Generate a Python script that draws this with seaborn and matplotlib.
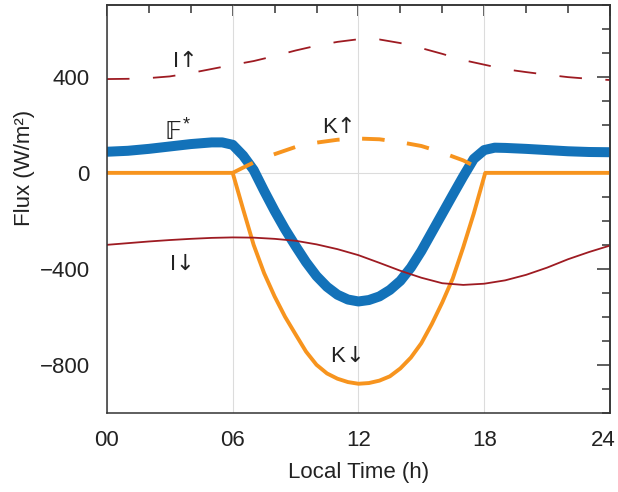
import matplotlib
matplotlib.use('Agg')
import matplotlib.pyplot as plt
from matplotlib.ticker import MultipleLocator, FixedLocator
from matplotlib.transforms import ScaledTranslation
import seaborn as sns

# Values (hours, W/m2)
hours = list(range(25))
i_up = [391, 392, 395, 402, 416, 433, 450, 466, 487, 510, 530, 546, 557,
        556, 541, 520, 496, 470, 451, 432, 420, 409, 399, 392, 387]
i_down = [-300, -293, -286, -280, -275, -271, -269, -270, -275, -283, -298,
          -318, -343, -375, -408, -437, -460, -467, -462, -448, -425, -395,
          -360, -330, -303]

kd_hours = [0, 6, 6.5, 7, 7.5, 8, 8.5, 9, 9.5, 10, 10.5, 11, 11.5, 12, 12.5,
            13, 13.5, 14, 14.5, 15, 15.5, 16, 16.5, 17, 17.5, 18.05, 24]
k_down = [0, 0, -152, -300, -418, -515, -600, -673, -745, -800, -836, -858,
          -872, -879, -876, -866, -848, -815, -770, -710, -630, -540, -440,
          -310, -170, 0, 0]

ku_hours = [6, 6.5, 7, 7.5, 8, 9, 10, 11, 12, 13, 14, 15, 16, 16.5, 17, 17.5, 18.05]
k_up = [0, 22, 43, 62, 78, 108, 126, 138, 143, 140, 128, 112, 85, 68, 52, 30, 0]

f_hours = [0, 1, 2, 3, 4, 5, 5.5, 6, 6.5, 7, 7.5, 8, 8.5, 9, 9.5, 10, 10.5,
           11, 11.5, 12, 12.5, 13, 13.5, 14, 14.5, 15, 15.5, 16, 16.5, 17,
           17.5, 18, 18.5, 19, 20, 21, 22, 23, 24]
f_star = [88, 92, 100, 110, 120, 127, 127, 117, 72, 12, -75, -158, -235, -305,
          -372, -430, -475, -508, -528, -536, -530, -515, -488, -450, -395,
          -326, -248, -170, -92, -15, 58, 95, 105, 104, 100, 95, 90, 87, 86]

x_ticks = [0, 6, 12, 18, 24]
x_labels = ['00', '06', '12', '18', '24']
y_ticks = [-800, -400, 0, 400]
y_labels = ['\u2212800', '\u2212400', '0', '400']

# curve labels: (letter, arrow, x where they meet, baseline y)
labels = [
    ('I', '\u2191', 3.43, 442),
    ('K', '\u2191', 10.97, 168),
    ('I', '\u2193', 3.29, -406),
    ('K', '\u2193', 11.36, -788),
]

blue = '#1372B9'
orange = '#F7941E'
red = '#9E1B22'
ink = '#333333'
text_c = '#222222'

sns.set_theme(style='white')
plt.rcParams['font.family'] = ['Liberation Sans', 'DejaVu Sans']

fig, ax = plt.subplots(figsize=(6.18, 4.92), dpi=100)
fig.subplots_adjust(left=0.173, right=0.987, bottom=0.161, top=0.99)

# light grid at the 6-hourly marks and at zero
ax.set_xticks(x_ticks)
ax.grid(axis='x', which='major', color='#dcdcdc', linewidth=0.8, zorder=0)
ax.axhline(0, color='#dcdcdc', linewidth=0.8, zorder=0.5)

round_kw = dict(solid_joinstyle='round', solid_capstyle='butt')
sns.lineplot(x=f_hours, y=f_star, color=blue, linewidth=7.2, ax=ax, **round_kw)
sns.lineplot(x=kd_hours, y=k_down, color=orange, linewidth=2.8, ax=ax, **round_kw)
sns.lineplot(x=ku_hours, y=k_up, color=orange, linewidth=2.8,
             linestyle=(0, (5.8, 5.8)), ax=ax)
sns.lineplot(x=hours, y=i_down, color=red, linewidth=1.3, ax=ax, **round_kw)
sns.lineplot(x=hours, y=i_up, color=red, linewidth=1.3,
             linestyle=(0, (12.5, 13)), ax=ax)

fs = 16
for letter, arrow, xm, yb in labels:
    ax.text(xm, yb, letter, fontsize=fs, color=text_c, ha='right', va='baseline')
    ax.text(xm, yb, arrow, fontsize=fs, color=text_c, ha='left', va='baseline',
            family='DejaVu Sans')
ax.text(3.15, 172, '\U0001D53D', fontsize=18, color=text_c, ha='center', va='center',
        family='DejaVu Sans')
ax.text(3.8, 200, '*', fontsize=13, color=text_c, ha='center', va='center')

ax.set_xlim(0, 24)
ax.set_ylim(-1000, 700)
ax.set_xticklabels(x_labels)
ax.yaxis.set_major_locator(FixedLocator(y_ticks))
ax.set_yticklabels(y_labels)
ax.xaxis.set_minor_locator(MultipleLocator(2))
ax.yaxis.set_minor_locator(MultipleLocator(100))

for s in ax.spines.values():
    s.set_color(ink)
    s.set_linewidth(1.1)

ax.tick_params(axis='x', which='major', direction='inout', length=17, width=1.1,
               color=ink, labelsize=fs, labelcolor=text_c, pad=4)
ax.tick_params(axis='x', which='minor', direction='in', length=9, width=1.1, color=ink)
ax.tick_params(axis='y', which='major', direction='inout', length=19, width=1.1,
               color=ink, labelsize=fs, labelcolor=text_c, pad=3)
ax.tick_params(axis='y', which='minor', direction='in', length=10.5, width=1.1, color=ink)

# last hour label sits a little left so it stays inside the figure
last = ax.xaxis.get_major_ticks()[-1].label1
last.set_transform(last.get_transform() + ScaledTranslation(-5 / 72, 0, fig.dpi_scale_trans))

# inward ticks on top and right
top = ax.secondary_xaxis('top')
top.xaxis.set_major_locator(FixedLocator(x_ticks))
top.xaxis.set_minor_locator(MultipleLocator(2))
top.tick_params(which='major', direction='in', length=8, width=1.1, color=ink, labeltop=False)
top.tick_params(which='minor', direction='in', length=5.5, width=1.1, color=ink)
top.spines['top'].set_color(ink)
top.spines['top'].set_linewidth(1.1)

right = ax.secondary_yaxis('right')
right.yaxis.set_major_locator(FixedLocator(y_ticks))
right.yaxis.set_minor_locator(MultipleLocator(100))
right.tick_params(which='major', direction='in', length=9.5, width=1.1, color=ink, labelright=False)
right.tick_params(which='minor', direction='in', length=5.5, width=1.1, color=ink)
right.spines['right'].set_color(ink)
right.spines['right'].set_linewidth(1.1)

ax.set_xlabel('Local Time (h)', fontsize=fs, color=text_c, labelpad=8)
ax.set_ylabel('Flux (W/m\u00b2)', fontsize=fs, color=text_c)
ax.yaxis.set_label_coords(-0.142, 0.6)

fig.savefig('out.png', dpi=100)
